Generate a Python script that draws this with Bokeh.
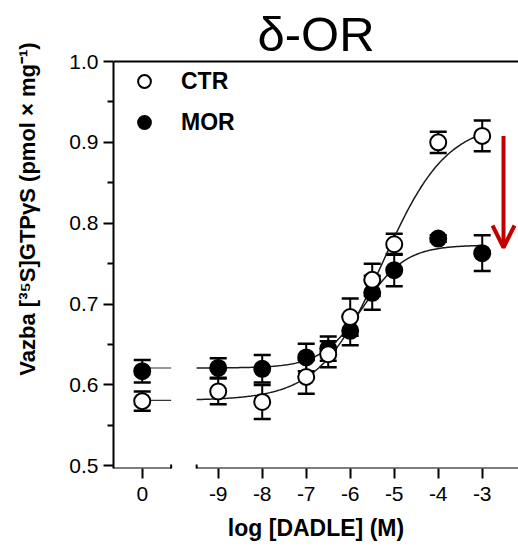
from bokeh.plotting import figure
from bokeh.models import (Range1d, FixedTicker, Legend, LegendItem, Span,
                          Whisker, TeeHead, Arrow, OpenHead, ColumnDataSource)
from bokeh.embed import file_html
from bokeh.resources import INLINE

# ---------------- data ----------------
x_tick_labels = ["0", "-9", "-8", "-7", "-6", "-5", "-4", "-3"]
log_dose = [-9, -8, -7, -6.5, -6, -5.5, -5, -4, -3]

ctr_control = 0.580
ctr_control_err = 0.012
ctr_mean = [0.592, 0.579, 0.610, 0.638, 0.684, 0.730, 0.774, 0.900, 0.908]
ctr_err = [0.016, 0.021, 0.021, 0.016, 0.023, 0.020, 0.013, 0.013, 0.019]

mor_control = 0.617
mor_control_err = 0.014
mor_mean = [0.621, 0.620, 0.634, 0.645, 0.667, 0.714, 0.742, 0.781, 0.763]
mor_err = [0.012, 0.017, 0.017, 0.015, 0.018, 0.021, 0.020, 0.004, 0.022]

# 4-parameter logistic fit (bottom, top, logEC50, hill)
ctr_fit = dict(bottom=0.581, top=0.925, logec50=-5.25, hill=0.6)
mor_fit = dict(bottom=0.621, top=0.773, logec50=-5.7, hill=0.9)

# ---------------- layout constants ----------------
FIG_W, FIG_H = 518, 550
BORDER_L, BORDER_T = 113, 59
FRAME_W = FIG_W - BORDER_L
PX_PER_DEC = 44.0
PX_PER_Y = 808.0
X_START = -11.38
X_END = X_START + FRAME_W / PX_PER_DEC
Y_START = 0.4967
Y_END = 1.0 + 2 / PX_PER_Y
BORDER_B = FIG_H - BORDER_T - round((Y_END - Y_START) * PX_PER_Y)
CTRL_X = -10.727          # axis position for the "0" (control) group
BREAK_L, BREAK_R = -10.07, -9.49
FIT_END = -3
RED = "#c00000"
FONT = "Liberation Sans"

p = figure(width=FIG_W, height=FIG_H, output_backend="svg", toolbar_location=None,
           x_range=Range1d(X_START, X_END), y_range=Range1d(Y_START, Y_END),
           min_border_left=BORDER_L, min_border_right=0, min_border_top=BORDER_T,
           min_border_bottom=BORDER_B, title="δ-OR")
p.outline_line_color = None
p.xgrid.visible = False
p.ygrid.visible = False
p.background_fill_color = "white"
p.border_fill_color = "white"

p.title.align = "center"
p.title.text_font = FONT
p.title.text_font_size = "49px"
p.title.text_font_style = "normal"
p.title.text_color = "black"
p.title.standoff = -3
p.title.offset = 0

# ---------------- axes ----------------
xticks = [CTRL_X] + [float(v) for v in [-9, -8, -7, -6, -5, -4, -3]]
p.xaxis.ticker = FixedTicker(ticks=xticks)
p.xaxis.major_label_overrides = {t: lab for t, lab in zip(xticks, x_tick_labels)}
p.xaxis.axis_line_color = None
p.xaxis.major_tick_line_width = 2
p.xaxis.major_tick_out = 10
p.xaxis.major_tick_in = 0
p.xaxis.minor_tick_line_color = None
p.xaxis.major_label_text_font = FONT
p.xaxis.major_label_text_font_size = "21px"
p.xaxis.major_label_text_color = "black"
p.xaxis.major_label_standoff = 8
p.xaxis.axis_label = "log [DADLE] (M)"
p.xaxis.axis_label_text_font = FONT
p.xaxis.axis_label_text_font_size = "23px"
p.xaxis.axis_label_text_font_style = "bold"
p.xaxis.axis_label_text_color = "black"
p.xaxis.axis_label_standoff = 11

p.yaxis.ticker = FixedTicker(ticks=[0.5, 0.6, 0.7, 0.8, 0.9, 1.0],
                             minor_ticks=[0.55, 0.65, 0.75, 0.85, 0.95])
p.yaxis.major_label_overrides = {0.5: "0.5", 0.6: "0.6", 0.7: "0.7", 0.8: "0.8", 0.9: "0.9", 1.0: "1.0"}
p.yaxis.bounds = (Y_START, 1.0)
p.yaxis.axis_line_width = 2
p.yaxis.major_tick_line_width = 2
p.yaxis.minor_tick_line_width = 2
p.yaxis.major_tick_out = 10
p.yaxis.major_tick_in = 0
p.yaxis.minor_tick_out = 6
p.yaxis.minor_tick_in = 0
p.yaxis.major_label_text_font = FONT
p.yaxis.major_label_text_font_size = "21px"
p.yaxis.major_label_text_color = "black"
p.yaxis.major_label_standoff = 5
# leading em-spaces move the centred label up, as in the original
p.yaxis.axis_label = "\u2003" * 5 + "Vazba [³⁵S]GTPγS (pmol × mg⁻¹)"
p.yaxis.axis_label_text_font = FONT
p.yaxis.axis_label_text_font_size = "22px"
p.yaxis.axis_label_text_font_style = "bold"
p.yaxis.axis_label_text_color = "black"
p.yaxis.axis_label_standoff = 26

# top frame line
p.add_layout(Span(location=1.0, dimension="width", line_color="black", line_width=2))

# broken x-axis line (two pieces) and break marks
def line_piece(x0, y0, x1, y1, width=2, color="black"):
    p.add_layout(Arrow(end=None, x_start=x0, y_start=y0, x_end=x1, y_end=y1,
                       line_color=color, line_width=width))

line_piece(X_START, Y_START, BREAK_L, Y_START)
line_piece(BREAK_R, Y_START, X_END, Y_START)
for bx in (BREAK_L, BREAK_R):
    line_piece(bx, Y_START + 4 / PX_PER_Y, bx, Y_START - 8 / PX_PER_Y)

# ---------------- fitted curves ----------------
def logistic(x, f):
    return f["bottom"] + (f["top"] - f["bottom"]) / (1 + 10 ** (f["hill"] * (f["logec50"] - x)))

n = 200
xs = [BREAK_R + (FIT_END - BREAK_R) * i / (n - 1) for i in range(n)]
for f in (ctr_fit, mor_fit):
    p.line(xs, [logistic(x, f) for x in xs], line_color="#1a1a1a", line_width=1.5)
    p.line([CTRL_X, BREAK_L], [f["bottom"], f["bottom"]], line_color="#333333", line_width=1.2)

# ---------------- error bars ----------------
def errbars(xv, yv, ev):
    src = ColumnDataSource(dict(x=xv, lo=[y - e for y, e in zip(yv, ev)], hi=[y + e for y, e in zip(yv, ev)]))
    w = Whisker(source=src, base="x", lower="lo", upper="hi", dimension="height",
                line_color="black", line_width=2, level="underlay",
                lower_head=TeeHead(size=17, line_width=2.5, line_color="black"),
                upper_head=TeeHead(size=17, line_width=2.5, line_color="black"))
    p.add_layout(w)

all_x = [CTRL_X] + log_dose
ctr_y = [ctr_control] + ctr_mean
ctr_e = [ctr_control_err] + ctr_err
mor_y = [mor_control] + mor_mean
mor_e = [mor_control_err] + mor_err
errbars(all_x, mor_y, mor_e)
errbars(all_x, ctr_y, ctr_e)

mor_r = p.scatter(all_x, mor_y, size=16, marker="circle", fill_color="black",
                  line_color="black", line_width=2)
ctr_r = p.scatter(all_x, ctr_y, size=16, marker="circle", fill_color="white",
                  line_color="black", line_width=2)

# ---------------- legend ----------------
legend = Legend(items=[LegendItem(label="CTR", renderers=[ctr_r]),
                       LegendItem(label="MOR", renderers=[mor_r])],
                location="top_left", margin=6, padding=2, spacing=9,
                glyph_width=50, glyph_height=32, label_height=32, label_standoff=12,
                border_line_color=None, background_fill_alpha=0,
                label_text_font=FONT, label_text_font_size="23px",
                label_text_font_style="bold", label_text_color="black")
p.add_layout(legend)

# ---------------- red arrow ----------------
arrow_x = -2.516
p.add_layout(Arrow(end=OpenHead(size=22, line_color=RED, line_width=4),
                   x_start=arrow_x, y_start=0.908, x_end=arrow_x, y_end=0.770,
                   line_color=RED, line_width=4))

open("out.html", "w").write(file_html(p, INLINE))
